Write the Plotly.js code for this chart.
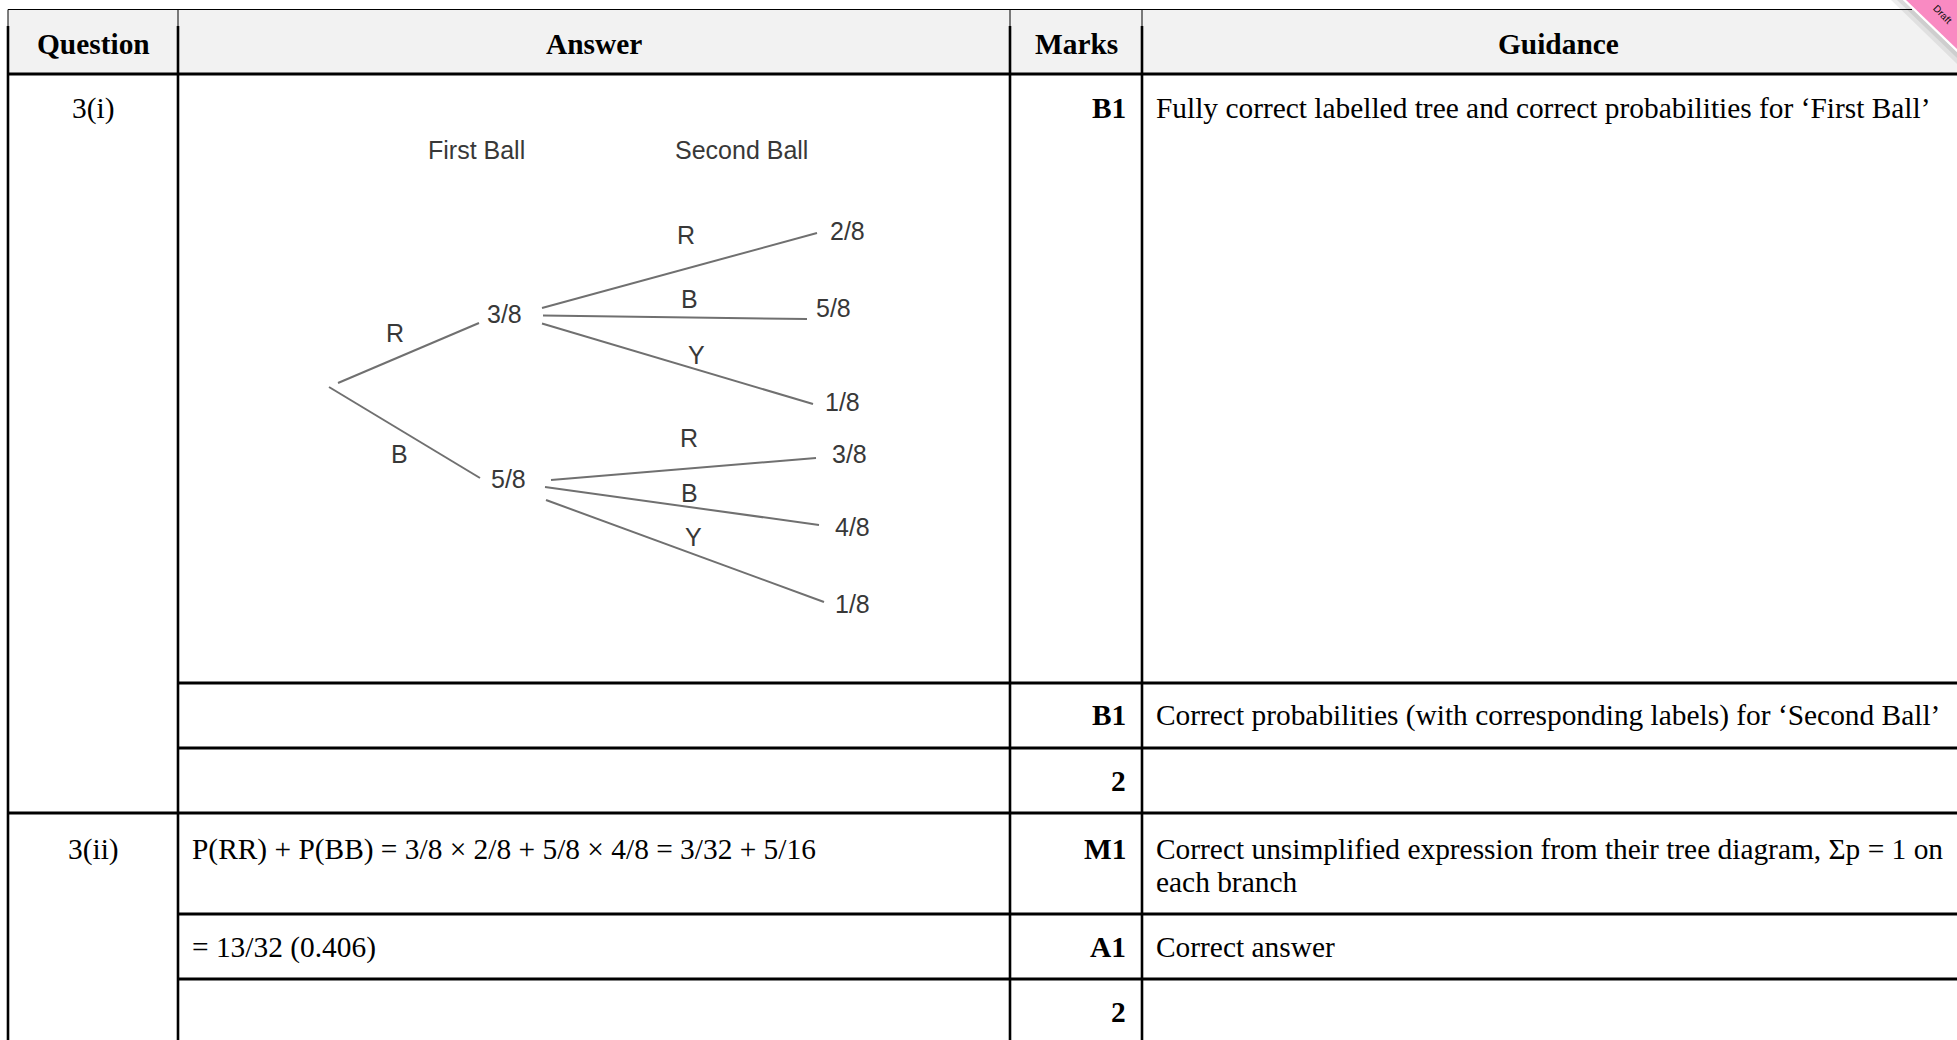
<!DOCTYPE html>
<html>
<head>
<meta charset="utf-8">
<script src="https://cdn.plot.ly/plotly-3.0.1.min.js"></script>
<style>html,body{margin:0;padding:0;background:#fff;}#chart{width:1957px;height:1040px;}</style>
</head>
<body>
<div id="chart"></div>
<script>
// ---------- data ----------
const headers = ["Question", "Answer", "Marks", "Guidance"];
const questions = ["3(i)", "3(ii)"];
const answers = ["", "", "", "P(RR) + P(BB) = 3/8 \u00d7 2/8 + 5/8 \u00d7 4/8 = 3/32 + 5/16", "= 13/32 (0.406)", ""];
const marks = ["B1", "B1", "2", "M1", "A1", "2"];
const guidance = [
  ["Fully correct labelled tree and correct probabilities for \u2018First Ball\u2019"],
  ["Correct probabilities (with corresponding labels) for \u2018Second Ball\u2019"],
  [""],
  ["Correct unsimplified expression from their tree diagram, \u03a3p = 1 on", "each branch"],
  ["Correct answer"],
  [""]
];
const treeTitles = ["First Ball", "Second Ball"];
const firstLabels = ["R", "B"];
const firstProbs = ["3/8", "5/8"];
const secondLabels = ["R", "B", "Y"];
const secondProbs = [["2/8", "5/8", "1/8"], ["3/8", "4/8", "1/8"]];
const ribbonText = "Draft";

// ---------- layout geometry (pixels) ----------
const W = 1957, H = 1040;
const colX = [8, 178, 1010, 1142, 1975];
const headTop = 9.5, headBot = 74;
const rowY = [74, 683, 748, 813, 914, 979, 1045];
const rowTextY = [[108], [715], [781], [849, 882], [947], [1012]];
const qTextY = [108, 849];
const serif = "Liberation Serif, Times New Roman, serif";
const sans = "Liberation Sans, Arial, sans-serif";
const FS = 29.4;

// tree geometry
const treeTitlePos = [[476, 150], [741, 150]];
const firstSeg = [[[338, 383], [479, 323]], [[329, 387], [480, 478]]];
const firstLabelPos = [[395, 333], [399, 454]];
const firstProbPos = [[504, 314], [508, 479]];
const secondSeg = [
  [[[542, 308], [817, 233]], [[543, 315.5], [807, 319]], [[542, 323.5], [813, 404]]],
  [[[551, 480], [816, 458]], [[545, 487], [819, 525]], [[546, 500], [824, 602]]]
];
const secondLabelPos = [[[686, 235], [689, 299], [696, 355]], [[689, 438], [689, 493], [693, 537]]];
const secondProbPos = [[[847, 231], [833, 308], [842, 402]], [[849, 454], [852, 527], [852, 604]]];

// ---------- shapes ----------
const shapes = [];
const line = (x0, y0, x1, y1, w, c) => shapes.push({type: "line", xref: "x", yref: "y", x0, y0, x1, y1, line: {color: c || "#000", width: w}});
shapes.push({type: "rect", xref: "x", yref: "y", x0: colX[0], x1: colX[4], y0: headTop, y1: headBot, fillcolor: "#f2f2f2", line: {width: 0}, layer: "below"});
line(colX[0], headTop, 1912, headTop, 1);
line(colX[0], headBot, colX[4], headBot, 3);
colX.slice(0, 4).forEach(x => { line(x, headTop, x, 26, 1); line(x, 26, x, H + 5, 2.6); });
rowY.slice(1, 6).forEach((y, i) => {
  const full = (i === 2);
  line(full ? colX[0] : colX[1], y, colX[4], y, 3);
});

// ribbon (top-right corner)
shapes.push({type: "path", xref: "x", yref: "y", path: "M 1891 0 L 1957 64 L 1957 52 L 1903 0 Z", fillcolor: "rgba(0,0,0,0.07)", line: {width: 0}});
shapes.push({type: "path", xref: "x", yref: "y", path: "M 1897 0 L 1957 58 L 1957 52 L 1903 0 Z", fillcolor: "rgba(0,0,0,0.08)", line: {width: 0}});
shapes.push({type: "path", xref: "x", yref: "y", path: "M 1903 0 L 1957 52 L 1957 0 Z", fillcolor: "#ffffff", line: {width: 0}});
shapes.push({type: "path", xref: "x", yref: "y", path: "M 1906 0 L 1957 49 L 1957 0 Z", fillcolor: "#f98ac2", line: {width: 0}});

// ---------- annotations ----------
const ann = [];
const txt = (x, y, text, o) => ann.push(Object.assign({xref: "x", yref: "y", x, y, text, showarrow: false, xanchor: "center", yanchor: "middle",
  font: {family: serif, size: FS, color: "#000"}}, o || {}));

headers.forEach((h, i) => txt((colX[i] + colX[i + 1]) / 2, 44, "<b>" + h + "</b>"));
questions.forEach((q, i) => txt((colX[0] + colX[1]) / 2, qTextY[i], q));
marks.forEach((m, r) => {
  txt(colX[3] - 14, rowTextY[r][0], "<b>" + m + "</b>", {xanchor: "right"});
  if (answers[r]) txt(colX[1] + 12, rowTextY[r][0], answers[r], {xanchor: "left"});
  guidance[r].forEach((g, k) => { if (g) txt(colX[3] + 12, rowTextY[r][k], g, {xanchor: "left"}); });
});

// tree text
const tfont = {family: sans, size: 25, color: "#383838"};
treeTitles.forEach((t, i) => txt(treeTitlePos[i][0], treeTitlePos[i][1], t, {font: tfont}));
firstLabels.forEach((l, i) => {
  txt(firstLabelPos[i][0], firstLabelPos[i][1], l, {font: tfont});
  txt(firstProbPos[i][0], firstProbPos[i][1], firstProbs[i], {font: tfont});
  secondLabels.forEach((s, j) => {
    txt(secondLabelPos[i][j][0], secondLabelPos[i][j][1], s, {font: tfont});
    txt(secondProbPos[i][j][0], secondProbPos[i][j][1], secondProbs[i][j], {font: tfont});
  });
});

// ribbon text
txt(1943, 14, ribbonText, {textangle: 45, font: {family: sans, size: 10, color: "#111"}});

// ---------- tree branch traces ----------
const bx = [], by = [];
const addSeg = s => { bx.push(s[0][0], s[1][0], null); by.push(s[0][1], s[1][1], null); };
firstSeg.forEach(addSeg);
secondSeg.forEach(g => g.forEach(addSeg));
const traces = [{type: "scatter", mode: "lines", x: bx, y: by, line: {color: "#707070", width: 2}, hoverinfo: "skip", showlegend: false}];

const layout = {
  width: W, height: H,
  margin: {l: 0, r: 0, t: 0, b: 0, pad: 0},
  paper_bgcolor: "#ffffff", plot_bgcolor: "#ffffff",
  xaxis: {range: [0, W], visible: false, fixedrange: true},
  yaxis: {range: [H, 0], visible: false, fixedrange: true},
  shapes, annotations: ann, showlegend: false
};
Plotly.newPlot("chart", traces, layout, {displayModeBar: false, staticPlot: true});
</script>
</body>
</html>
